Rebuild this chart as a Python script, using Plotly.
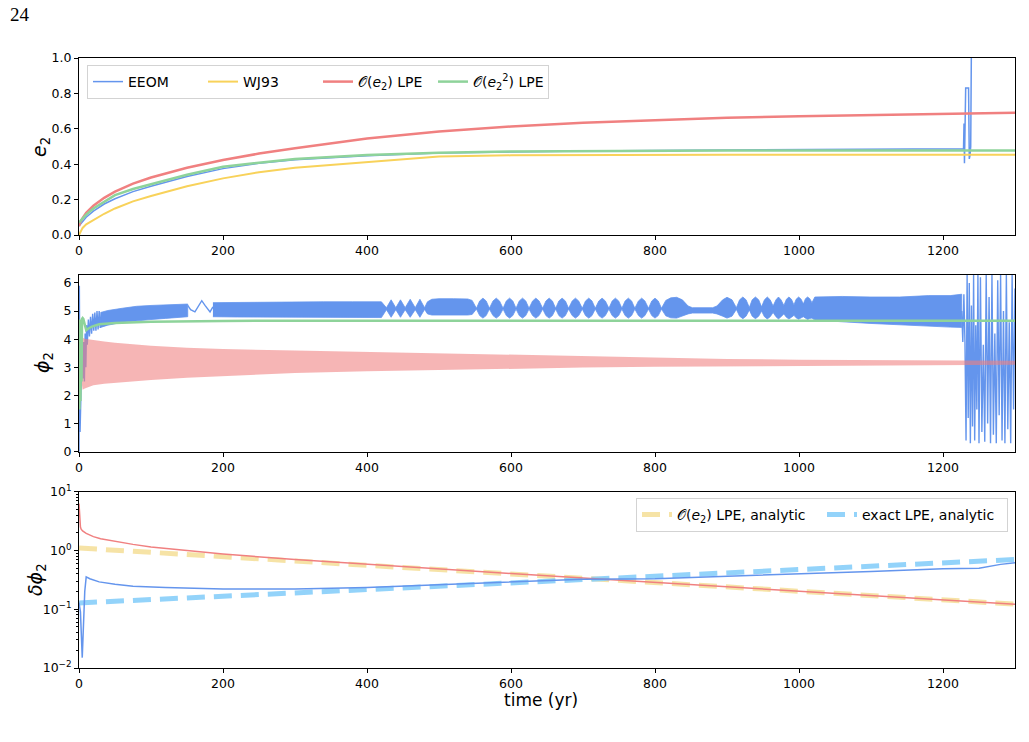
import plotly.graph_objects as go

# ---------------- data ----------------
# Panel 1: eccentricity e2 vs time (yr)
e_t = [0, 2, 5, 10, 20, 35, 50, 75, 100, 150, 200, 250, 300, 400, 500, 600,
       700, 800, 900, 1000, 1100, 1200, 1300]
e_lpe1 = [0.05, 0.075, 0.095, 0.125, 0.165, 0.21, 0.245, 0.29, 0.325, 0.38, 0.424,
          0.46, 0.49, 0.545, 0.585, 0.613, 0.634, 0.65, 0.662, 0.671, 0.678, 0.685, 0.69]
e_lpe2 = [0.07, 0.08, 0.095, 0.115, 0.15, 0.19, 0.225, 0.26, 0.288, 0.34, 0.386,
          0.41, 0.43, 0.452, 0.465, 0.472, 0.475, 0.477, 0.478, 0.478, 0.478, 0.478, 0.478]
e_wj93 = [0.0, 0.02, 0.04, 0.06, 0.085, 0.12, 0.15, 0.19, 0.22, 0.275, 0.32,
          0.355, 0.38, 0.414, 0.444, 0.45, 0.452, 0.453, 0.453, 0.453, 0.453, 0.453, 0.453]
eeom_e_t = [0, 2, 5, 10, 20, 35, 50, 75, 100, 150, 200, 250, 300, 400, 500, 600, 700,
            800, 900, 1000, 1100, 1200, 1228.5, 1229.2, 1229.8, 1230.6, 1231.5,
            1235.5, 1236.5, 1237.5, 1238.5, 1239.5]
eeom_e = [0.05, 0.06, 0.075, 0.1, 0.135, 0.175, 0.205, 0.245, 0.275, 0.33, 0.375,
          0.405, 0.425, 0.448, 0.463, 0.47, 0.475, 0.478, 0.481, 0.482, 0.484, 0.486,
          0.487, 0.63, 0.405, 0.6, 0.83, 0.83, 0.43, 0.45, 0.5, 1.1]

# Panel 2: phi2 vs time
# EEOM, early transient (line)
eeom_phi_early_t = [0, 0.5, 1.5, 3, 4.5, 5.5, 6.5, 7.5, 8.5, 9.5, 10.5, 11.5, 13, 14.5,
                    16, 17.5, 19, 20.5, 22, 23.5, 25, 26.5, 28, 29.5, 31]
eeom_phi_early = [0.0, 5.9, 0.7, 2.5, 4.0, 2.6, 3.9, 2.5, 4.2, 3.0, 4.5, 3.8, 4.7, 4.1,
                  4.8, 4.2, 4.9, 4.3, 4.95, 4.3, 5.0, 4.35, 5.0, 4.4, 4.95]
# EEOM, oscillation envelope, segment A
eeom_bandA_t = [30, 40, 60, 80, 100, 120, 140, 151]
eeom_bandA_hi = [4.95, 5.02, 5.1, 5.17, 5.2, 5.23, 5.25, 5.25]
eeom_bandA_lo = [4.42, 4.5, 4.6, 4.66, 4.7, 4.74, 4.77, 4.8]
# EEOM, slow wiggle (line)
eeom_wave_t = [151, 155, 161, 166, 170.5, 175, 182, 186]
eeom_wave = [5.2, 5.05, 4.97, 5.2, 5.37, 5.2, 4.97, 5.15]
# EEOM, oscillation envelope, segment B (with beat lobes)
eeom_bandB_t = [186, 220, 260, 300, 340, 380, 420,
                427, 433.5, 440, 446.5, 453, 460, 467, 473.5,
                480, 484, 490, 500, 520, 540, 546,
                552, 556.5, 561, 565.5, 570, 575, 579.5, 584, 589, 593.5, 598, 602.5,
                607, 611.5, 616, 620.5, 625, 630, 634.5, 639, 644, 648.5, 653, 657.5,
                662, 666.5, 671, 675.5, 680, 685, 689.5, 694, 699, 703.5, 708, 712.5,
                717, 722, 726.5, 731, 736, 740.5, 745, 749.5, 754, 758.5, 763, 767.5,
                772, 777, 781.5, 786, 791, 795.5, 800, 804.5,
                809, 815, 822, 830, 838, 846, 852, 880, 886, 894, 900, 907,
                913, 917.5, 922, 926.5, 931, 935, 939.5, 944, 948, 952, 956, 960,
                964, 968, 971.5, 975, 979, 982.5, 986, 989.5, 993, 996, 999.5, 1003,
                1006, 1009, 1012, 1015, 1018,
                1022, 1060, 1100, 1140, 1180, 1210, 1226]
eeom_bandB_hi = [5.30, 5.31, 5.32, 5.33, 5.33, 5.33, 5.33,
                 5.12, 5.40, 5.12, 5.40, 5.12, 5.42, 5.12, 5.42,
                 5.12, 5.33, 5.42, 5.44, 5.44, 5.43, 5.38,
                 5.10, 5.36, 5.46, 5.36, 5.10, 5.36, 5.46, 5.36, 5.10, 5.36, 5.46, 5.36,
                 5.10, 5.36, 5.46, 5.36, 5.10, 5.36, 5.46, 5.36, 5.10, 5.36, 5.46, 5.36,
                 5.10, 5.36, 5.46, 5.36, 5.10, 5.36, 5.46, 5.36, 5.10, 5.36, 5.46, 5.36,
                 5.10, 5.36, 5.46, 5.36, 5.10, 5.36, 5.46, 5.36, 5.10, 5.36, 5.46, 5.36,
                 5.10, 5.36, 5.46, 5.36, 5.10, 5.36, 5.46, 5.36,
                 5.10, 5.38, 5.47, 5.49, 5.40, 5.18, 5.12, 5.12, 5.18, 5.40, 5.49, 5.40,
                 5.12, 5.40, 5.50, 5.40, 5.13, 5.40, 5.50, 5.40, 5.15, 5.40, 5.50, 5.40,
                 5.18, 5.40, 5.50, 5.40, 5.20, 5.42, 5.50, 5.42, 5.22, 5.42, 5.50, 5.42,
                 5.25, 5.44, 5.50, 5.44, 5.30,
                 5.50, 5.52, 5.50, 5.50, 5.55, 5.55, 5.60]
eeom_bandB_lo = [4.80, 4.79, 4.78, 4.78, 4.77, 4.77, 4.77,
                 5.05, 4.78, 5.05, 4.78, 5.05, 4.78, 5.05, 4.78,
                 5.06, 4.90, 4.86, 4.85, 4.85, 4.86, 4.88,
                 5.07, 4.84, 4.75, 4.84, 5.07, 4.84, 4.75, 4.84, 5.07, 4.84, 4.75, 4.84,
                 5.07, 4.84, 4.75, 4.84, 5.07, 4.84, 4.75, 4.84, 5.07, 4.84, 4.75, 4.84,
                 5.07, 4.84, 4.75, 4.84, 5.07, 4.84, 4.75, 4.84, 5.07, 4.84, 4.75, 4.84,
                 5.07, 4.84, 4.75, 4.84, 5.07, 4.84, 4.75, 4.84, 5.07, 4.84, 4.75, 4.84,
                 5.07, 4.84, 4.75, 4.84, 5.07, 4.84, 4.75, 4.84,
                 5.07, 4.83, 4.76, 4.75, 4.82, 4.90, 4.93, 4.93, 4.90, 4.82, 4.75, 4.82,
                 5.06, 4.82, 4.73, 4.82, 5.04, 4.82, 4.73, 4.82, 5.00, 4.80, 4.72, 4.80,
                 4.95, 4.80, 4.72, 4.80, 4.90, 4.78, 4.72, 4.78, 4.85, 4.76, 4.71, 4.76,
                 4.80, 4.74, 4.70, 4.74, 4.75,
                 4.68, 4.62, 4.56, 4.50, 4.46, 4.43, 4.42]
# EEOM, final chaotic phase (line)
eeom_phi_late_t = [1226, 1227.5, 1229, 1230.5, 1232, 1233.5, 1235, 1236.5, 1238, 1239.5,
                   1241, 1242.5, 1244, 1245.5, 1247, 1248.5, 1250,
                   1252, 1254, 1256, 1258, 1260, 1262, 1264, 1266, 1268, 1270,
                   1272, 1274, 1276, 1278, 1280, 1282, 1284, 1286, 1288, 1290,
                   1292, 1294, 1296, 1298, 1300]
eeom_phi_late = [5.0, 3.9, 5.6, 3.9, 0.4, 6.28, 1.2, 6.0, 0.3, 5.2,
                 0.9, 6.28, 0.4, 4.5, 1.5, 6.28, 0.3,
                 6.2, 0.7, 3.8, 0.35, 6.28, 1.0, 5.5, 0.3, 6.28, 0.6,
                 4.2, 0.3, 6.1, 1.3, 6.28, 0.4, 5.0, 0.3, 6.28, 0.8,
                 4.6, 0.3, 6.28, 1.5, 5.8]
# O(e2) LPE: oscillation envelope
lpe1_phi_t = [4, 5, 8, 12, 20, 35, 50, 75, 100, 150, 200, 300, 400, 500, 600, 700,
              800, 900, 1000, 1100, 1200, 1300]
lpe1_phi_hi = [3.9, 4.05, 4.02, 4.0, 3.97, 3.92, 3.87, 3.82, 3.77, 3.7, 3.65, 3.6,
               3.55, 3.48, 3.43, 3.38, 3.33, 3.3, 3.27, 3.25, 3.24, 3.23]
lpe1_phi_lo = [2.4, 2.2, 2.25, 2.3, 2.36, 2.42, 2.47, 2.51, 2.55, 2.63, 2.7, 2.8,
               2.86, 2.91, 2.95, 2.99, 3.02, 3.04, 3.06, 3.07, 3.08, 3.09]
# O(e2^2) LPE
lpe2_phi_t = [0, 0.7, 1.4, 2.1, 2.8, 3.5, 4.2, 5, 6, 7, 8.5, 10, 13, 18, 28, 50, 100,
              200, 400, 1300]
lpe2_phi = [4.2, 1.5, 4.7, 1.8, 4.7, 2.5, 4.72, 4.75, 4.72, 4.6, 4.4, 4.32, 4.38,
            4.45, 4.53, 4.58, 4.62, 4.65, 4.66, 4.66]

# Panel 3: delta phi2 (log)
d_red_t = [0, 0.5, 1, 2, 3, 5, 10, 20, 30, 50, 75, 100, 150, 200, 300, 400, 500,
           600, 700, 800, 900, 1000, 1100, 1200, 1300]
d_red = [6.3, 4.5, 3.2, 2.5, 2.3, 2.15, 1.95, 1.72, 1.58, 1.42, 1.27, 1.15, 0.99,
         0.87, 0.70, 0.58, 0.48, 0.405, 0.34, 0.287, 0.241, 0.203, 0.171, 0.144, 0.121]
d_eeom_t = [0, 2, 4.5, 8, 10, 15, 28, 50, 75, 120, 200, 300, 400, 500, 600, 700,
            800, 900, 1000, 1100, 1200, 1250, 1280, 1300]
d_eeom = [0.13, 0.09, 0.015, 0.2, 0.355, 0.33, 0.292, 0.265, 0.247, 0.234, 0.222,
          0.22, 0.235, 0.26, 0.29, 0.325, 0.33, 0.36, 0.40, 0.44, 0.49, 0.50, 0.58, 0.62]
d_an_t = [0, 200, 400, 600, 800, 1000, 1200, 1300]
d_an_lpe1 = [1.1, 0.785, 0.56, 0.40, 0.285, 0.203, 0.145, 0.122]
d_an_exact = [0.128, 0.166, 0.215, 0.281, 0.364, 0.473, 0.614, 0.70]

x_ticks = [0, 200, 400, 600, 800, 1000, 1200]
e_ticks = [0.0, 0.2, 0.4, 0.6, 0.8, 1.0]
phi_ticks = [0, 1, 2, 3, 4, 5, 6]
d_tickvals = [0.01, 0.1, 1, 10]
d_ticktext = ["10<sup>\u22122</sup>", "10<sup>\u22121</sup>", "10<sup>0</sup>", "10<sup>1</sup>"]
d_minor = [m * 10.0 ** k for k in (-2, -1, 0) for m in range(2, 10)]

# ---------------- styling ----------------
BLUE = "#6495ED"
GOLD = "#F8D25A"
RED = "#F08080"
GREEN = "#8ED39A"
RED_BAND = "rgba(240,128,128,0.58)"
DASH_YEL = "rgba(245,222,150,0.85)"
DASH_BLU = "rgba(135,206,250,0.9)"

W, H = 1029, 742
L, R, T, B = 79, 1015, 58, 668


def xp(px):
    return (px - L) / (R - L)


def yp(py):
    return (B - py) / (B - T)


def poly(t, hi, lo):
    return list(t) + list(t)[::-1], list(hi) + list(lo)[::-1]


fig = go.Figure()

# ---- panel 1 ----
fig.add_trace(go.Scatter(x=eeom_e_t, y=eeom_e, mode="lines", name="EEOM",
                         line=dict(color=BLUE, width=1.5), xaxis="x", yaxis="y",
                         legend="legend"))
fig.add_trace(go.Scatter(x=e_t, y=e_wj93, mode="lines", name="WJ93",
                         line=dict(color=GOLD, width=2), xaxis="x", yaxis="y",
                         legend="legend"))
fig.add_trace(go.Scatter(x=e_t, y=e_lpe1, mode="lines",
                         name="\U0001D4AA(<i>e</i><sub>2</sub>) LPE",
                         line=dict(color=RED, width=2.5), xaxis="x", yaxis="y",
                         legend="legend"))
fig.add_trace(go.Scatter(x=e_t, y=e_lpe2, mode="lines",
                         name="\U0001D4AA(<i>e</i><sub>2</sub><sup>2</sup>) LPE",
                         line=dict(color=GREEN, width=2.5), xaxis="x", yaxis="y",
                         legend="legend"))

# ---- panel 2 ----
px_, py_ = poly(eeom_bandA_t, eeom_bandA_hi, eeom_bandA_lo)
fig.add_trace(go.Scatter(x=px_, y=py_, mode="lines", fill="toself", fillcolor=BLUE,
                         line=dict(color=BLUE, width=0.8), showlegend=False,
                         xaxis="x2", yaxis="y2", hoverinfo="skip"))
px_, py_ = poly(eeom_bandB_t, eeom_bandB_hi, eeom_bandB_lo)
fig.add_trace(go.Scatter(x=px_, y=py_, mode="lines", fill="toself", fillcolor=BLUE,
                         line=dict(color=BLUE, width=0.8), showlegend=False,
                         xaxis="x2", yaxis="y2", hoverinfo="skip"))
for tt, vv in [(eeom_phi_early_t, eeom_phi_early), (eeom_wave_t, eeom_wave),
               (eeom_phi_late_t, eeom_phi_late)]:
    fig.add_trace(go.Scatter(x=tt, y=vv, mode="lines", line=dict(color=BLUE, width=1.4),
                             showlegend=False, xaxis="x2", yaxis="y2"))
px_, py_ = poly(lpe1_phi_t, lpe1_phi_hi, lpe1_phi_lo)
fig.add_trace(go.Scatter(x=px_, y=py_, mode="lines", fill="toself", fillcolor=RED_BAND,
                         line=dict(width=0), showlegend=False,
                         xaxis="x2", yaxis="y2", hoverinfo="skip"))
fig.add_trace(go.Scatter(x=lpe2_phi_t, y=lpe2_phi, mode="lines",
                         line=dict(color=GREEN, width=2.5), showlegend=False,
                         xaxis="x2", yaxis="y2"))

# ---- panel 3 ----
fig.add_trace(go.Scatter(x=d_an_t, y=d_an_lpe1, mode="lines",
                         name="\U0001D4AA(<i>e</i><sub>2</sub>) LPE, analytic",
                         line=dict(color=DASH_YEL, width=5, dash="18px,9px"),
                         xaxis="x3", yaxis="y3", legend="legend2"))
fig.add_trace(go.Scatter(x=d_an_t, y=d_an_exact, mode="lines",
                         name="exact LPE, analytic",
                         line=dict(color=DASH_BLU, width=5, dash="18px,9px"),
                         xaxis="x3", yaxis="y3", legend="legend2"))
fig.add_trace(go.Scatter(x=d_red_t, y=d_red, mode="lines", line=dict(color=RED, width=1.5),
                         showlegend=False, xaxis="x3", yaxis="y3"))
fig.add_trace(go.Scatter(x=d_eeom_t, y=d_eeom, mode="lines", line=dict(color=BLUE, width=1.5),
                         showlegend=False, xaxis="x3", yaxis="y3"))

# ---------------- layout ----------------
tickfont = dict(family="DejaVu Sans", size=12.5, color="black")
ax_common = dict(showline=True, linecolor="black", linewidth=1, mirror=True,
                 ticks="outside", ticklen=4, tickwidth=1, tickcolor="black",
                 showgrid=False, zeroline=False, tickfont=tickfont)

xcommon = dict(ax_common, range=[0, 1300], tickvals=x_ticks)

fig.update_layout(
    width=W, height=H,
    margin=dict(l=L, r=W - R, t=T, b=H - B),
    paper_bgcolor="white", plot_bgcolor="white",
    font=dict(family="DejaVu Sans", color="black"),
    xaxis=dict(xcommon, domain=[0, 1], anchor="y"),
    yaxis=dict(ax_common, domain=[yp(235), yp(58)], range=[0, 1], tickvals=e_ticks,
               tickformat=".1f", anchor="x"),
    xaxis2=dict(xcommon, domain=[0, 1], anchor="y2"),
    yaxis2=dict(ax_common, domain=[yp(451.7), yp(275)], range=[0, 6.2832],
                tickvals=phi_ticks, anchor="x2"),
    xaxis3=dict(xcommon, domain=[0, 1], anchor="y3"),
    yaxis3=dict(ax_common, domain=[0, yp(491.7)], type="log", range=[-2, 1],
                tickvals=d_tickvals, ticktext=d_ticktext, anchor="x3",
                minor=dict(tickvals=d_minor, ticks="outside", ticklen=2,
                           tickcolor="black", tickwidth=0.8, showgrid=False)),
    legend=dict(x=xp(87), y=yp(65), xanchor="left", yanchor="top", orientation="h",
                bordercolor="#d3d3d3", borderwidth=1, bgcolor="rgba(255,255,255,0.85)",
                font=dict(size=14, family="DejaVu Sans"), entrywidth=70,
                itemwidth=30),
    legend2=dict(x=xp(1008), y=yp(498), xanchor="right", yanchor="top", orientation="h",
                 bordercolor="#d3d3d3", borderwidth=1, bgcolor="rgba(255,255,255,0.85)",
                 font=dict(size=14, family="DejaVu Sans"), entrywidth=140,
                 itemwidth=30),
)

ann = [
    dict(text="24", x=xp(8), y=yp(15), xanchor="left", yanchor="middle",
         font=dict(family="Liberation Serif", size=19)),
    dict(text="<i>e</i><sub>2</sub>", x=xp(41), y=yp(147), textangle=-90,
         xanchor="center", yanchor="middle", font=dict(size=19)),
    dict(text="<i>\u03d5</i><sub>2</sub>", x=xp(43), y=yp(363), textangle=-90,
         xanchor="center", yanchor="middle", font=dict(size=19)),
    dict(text="<i>\u03b4\u03d5</i><sub>2</sub>", x=xp(36), y=yp(580), textangle=-90,
         xanchor="center", yanchor="middle", font=dict(size=19)),
    dict(text="time (yr)", x=xp(541), y=yp(700), xanchor="center", yanchor="middle",
         font=dict(size=17)),
]
for a in ann:
    a.update(xref="paper", yref="paper", showarrow=False)
fig.update_layout(annotations=ann)

fig.write_html("out.html")
